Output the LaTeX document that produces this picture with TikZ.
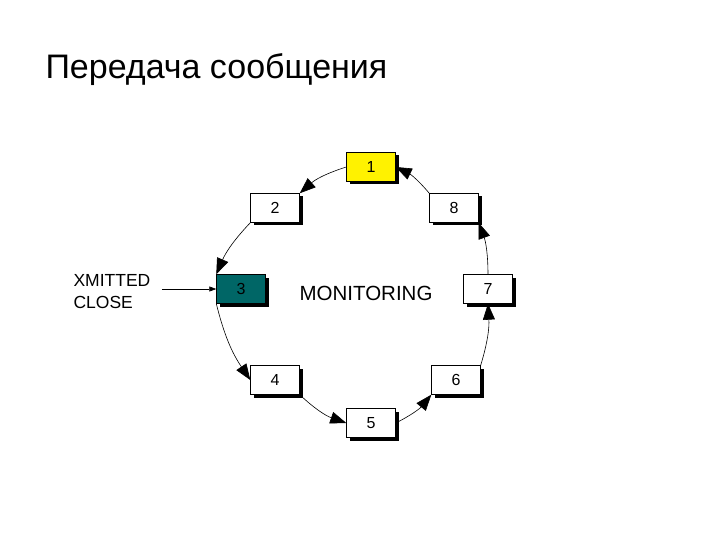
\documentclass[tikz,border=0pt]{standalone}
\usepackage{fontspec}
\setmainfont{Liberation Sans}
\usetikzlibrary{arrows.meta}
\begin{document}
\begin{tikzpicture}[x=1pt,y=-1pt,
  box/.style={draw=black,fill=white,minimum width=49pt,minimum height=29pt,inner sep=0pt,font=\fontsize{16}{18}\selectfont},
  conn/.style={-{Triangle[length=16pt,width=12pt]},semithick}]
\useasboundingbox (0,0) rectangle (720,540);
\node[anchor=west,font=\fontsize{34}{40}\selectfont] (title) at (42,70) {Передача сообщения};
\foreach \x/\y in {371/167,275/208,454/208,241/289,488/289,275/380,456/380,371/423}
  \fill[black] (\x-21.5,\y-11.5) rectangle (\x+27.5,\y+17.5);
\node[box,fill=yellow] (b1) at (371,167) {1};
\node[box] (b2) at (275,208) {2};
\node[box] (b8) at (454,208) {8};
\node[box,fill=teal!80!black] (b3) at (241,289) {3};
\node[box] (b7) at (488,289) {7};
\node[box] (b4) at (275,380) {4};
\node[box] (b6) at (456,380) {6};
\node[box] (b5) at (371,423) {5};
\node[font=\fontsize{20.5}{22}\selectfont] (mon) at (366,293) {MONITORING};
\node[align=left,anchor=west,font=\fontsize{17.5}{22}\selectfont] (xm) at (70,292) {XMITTED\\CLOSE};
\draw[semithick,-{Triangle[length=7pt,width=5pt]}] (xm.east)+(8,-3) coordinate (xs) -- (b3.west|-xs);
\draw[conn,bend right=12] (b1.west) to (b2.north east);
\draw[conn,bend right=10] (b2.south west) to (b3.north west);
\draw[conn,bend right=10] (b3.south west) to (b4.west);
\draw[conn,bend right=12] (b4.south east) to (b5.west);
\draw[conn,bend right=12] (b5.east) to (b6.south west);
\draw[conn,bend right=10] (b6.north east) to (b7.south);
\draw[conn,bend right=10] (b7.north) to (b8.south east);
\draw[conn,bend right=12] (b8.north west) to (b1.east);
\end{tikzpicture}
\end{document}
